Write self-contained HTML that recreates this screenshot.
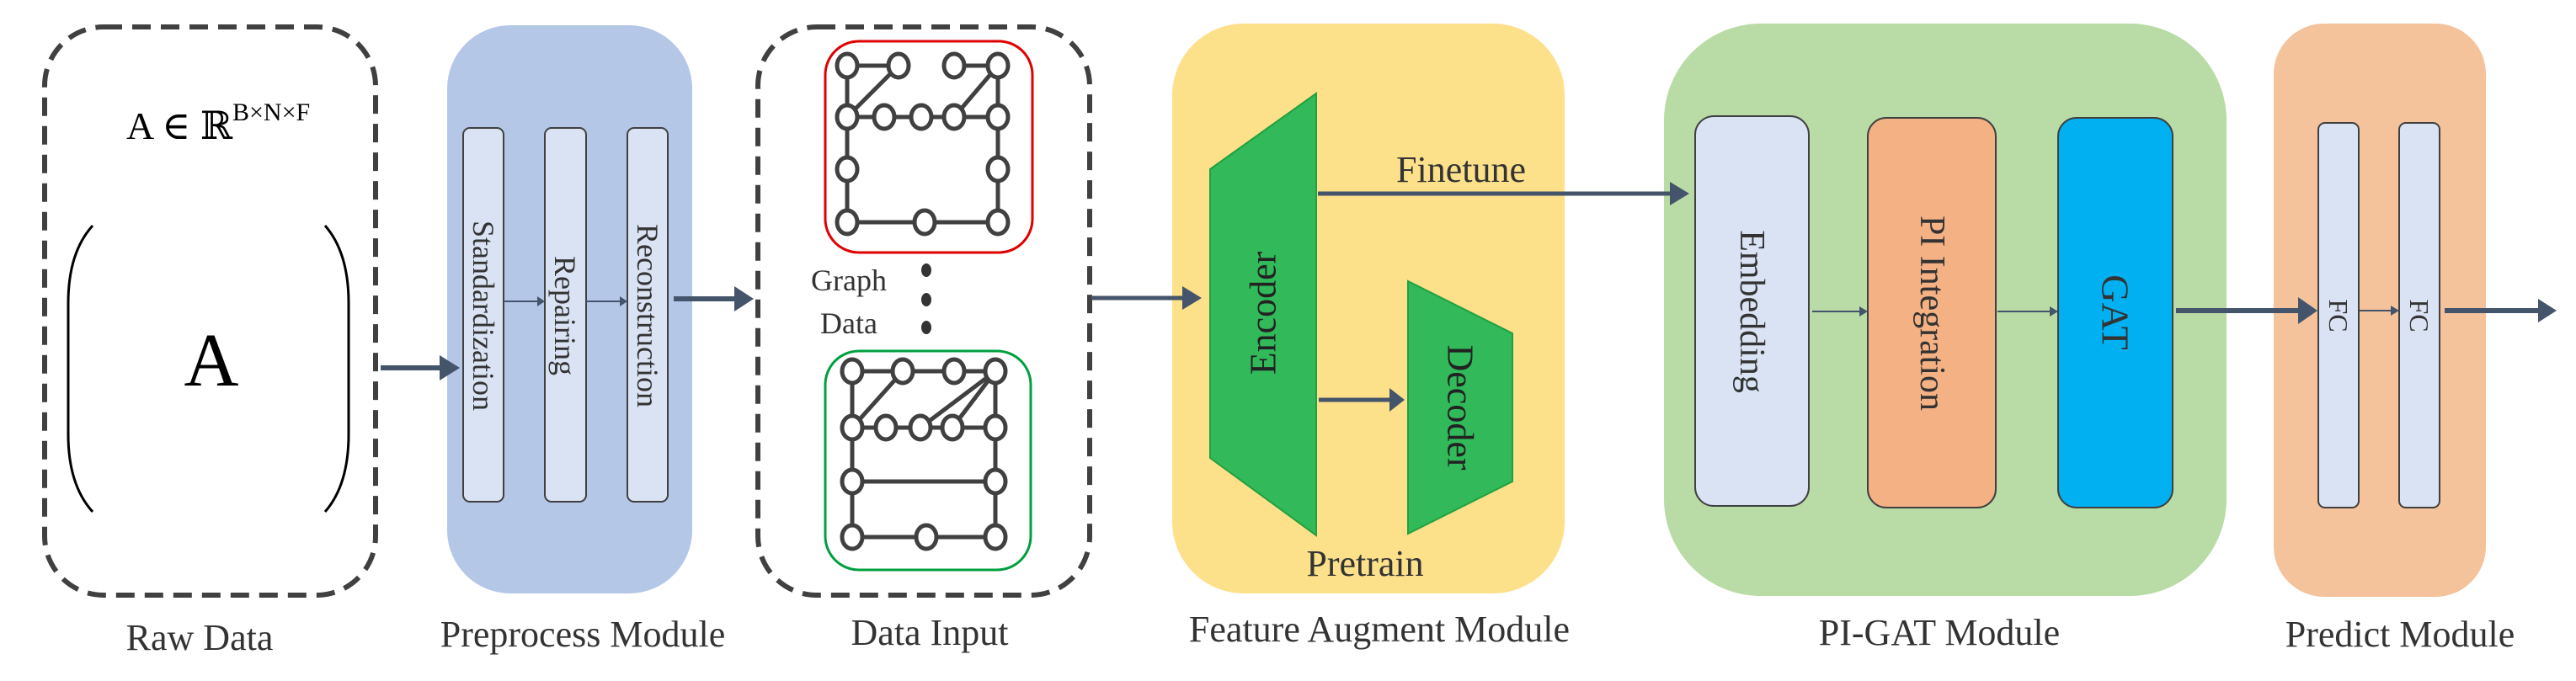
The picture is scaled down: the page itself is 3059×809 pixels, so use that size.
<!DOCTYPE html>
<html><head><meta charset="utf-8"><style>
html,body{margin:0;padding:0;background:#fff;}
svg, svg text{font-family:"Liberation Serif","DejaVu Serif",serif;}
</style></head><body>
<svg width="3059" height="804" viewBox="0 0 3059 804" xmlns="http://www.w3.org/2000/svg" font-family="Liberation Serif, DejaVu Serif, serif">
<!-- Raw data -->
<rect x="53" y="32" width="393" height="675" rx="70" fill="none" stroke="#404040" stroke-width="6" stroke-dasharray="22 12"/>
<text x="150" y="165" font-size="46" font-family="Liberation Serif, DejaVu Serif, serif">A ∈ ℝ<tspan font-size="30" dy="-22">B×N×F</tspan></text>
<path d="M110 268 Q81 300 81 360 L81 516 Q81 576 110 608" fill="none" stroke="#000" stroke-width="3"/>
<path d="M386 268 Q414 300 414 360 L414 516 Q414 576 386 608" fill="none" stroke="#000" stroke-width="3"/>
<text x="251" y="458" font-size="90" text-anchor="middle" font-family="Liberation Serif, serif">A</text>
<!-- Preprocess -->
<rect x="531" y="30" width="291" height="675" rx="75" fill="#b4c7e7"/>
<rect x="550" y="152" width="48" height="444" rx="8" fill="#dae3f3" stroke="#404040" stroke-width="2"/>
<rect x="647" y="152" width="49" height="444" rx="8" fill="#dae3f3" stroke="#404040" stroke-width="2"/>
<rect x="745" y="152" width="48" height="444" rx="8" fill="#dae3f3" stroke="#404040" stroke-width="2"/>
<g font-family="Liberation Serif, serif" fill="#333" text-anchor="middle" dominant-baseline="central">
<text transform="translate(574,375) rotate(90)" font-size="36">Standardization</text>
<text transform="translate(671,375) rotate(90)" font-size="36">Repairing</text>
<text transform="translate(769,375) rotate(90)" font-size="36">Reconstruction</text>
</g>
<!-- Data input -->
<rect x="900" y="32" width="394" height="675" rx="70" fill="none" stroke="#404040" stroke-width="6" stroke-dasharray="22 12"/>
<rect x="980" y="49" width="246" height="251" rx="40" fill="none" stroke="#e00000" stroke-width="3"/>
<rect x="980" y="417" width="244" height="260" rx="40" fill="none" stroke="#00a040" stroke-width="3"/>
<g stroke="#404040" stroke-width="5" fill="none">
<line x1="1006" y1="78" x2="1067" y2="78"/><line x1="1133" y1="78" x2="1185" y2="78"/>
<line x1="1067" y1="78" x2="1006" y2="139"/><line x1="1185" y1="78" x2="1133" y2="139"/>
<line x1="1006" y1="139" x2="1185" y2="139"/>
<line x1="1006" y1="78" x2="1006" y2="264"/><line x1="1185" y1="78" x2="1185" y2="264"/>
<line x1="1006" y1="264" x2="1185" y2="264"/>
<line x1="1012" y1="441" x2="1182" y2="441"/>
<line x1="1072" y1="441" x2="1012" y2="508"/>
<line x1="1182" y1="441" x2="1093" y2="508"/><line x1="1182" y1="441" x2="1131" y2="508"/>
<line x1="1012" y1="508" x2="1182" y2="508"/>
<line x1="1012" y1="441" x2="1012" y2="638"/><line x1="1182" y1="441" x2="1182" y2="638"/>
<line x1="1012" y1="572" x2="1182" y2="572"/>
<line x1="1012" y1="638" x2="1182" y2="638"/>
</g>
<g stroke="#404040" stroke-width="5" fill="#fff">
<ellipse cx="1006" cy="78" rx="12" ry="14"/><ellipse cx="1067" cy="78" rx="12" ry="14"/><ellipse cx="1133" cy="78" rx="12" ry="14"/><ellipse cx="1185" cy="78" rx="12" ry="14"/>
<ellipse cx="1006" cy="139" rx="12" ry="14"/><ellipse cx="1050" cy="139" rx="12" ry="14"/><ellipse cx="1094" cy="139" rx="12" ry="14"/><ellipse cx="1133" cy="139" rx="12" ry="14"/><ellipse cx="1185" cy="139" rx="12" ry="14"/>
<ellipse cx="1006" cy="201" rx="12" ry="14"/><ellipse cx="1185" cy="201" rx="12" ry="14"/>
<ellipse cx="1006" cy="264" rx="12" ry="14"/><ellipse cx="1098" cy="264" rx="12" ry="14"/><ellipse cx="1185" cy="264" rx="12" ry="14"/>
<ellipse cx="1012" cy="441" rx="12" ry="14"/><ellipse cx="1072" cy="441" rx="12" ry="14"/><ellipse cx="1133" cy="441" rx="12" ry="14"/><ellipse cx="1182" cy="441" rx="12" ry="14"/>
<ellipse cx="1012" cy="508" rx="12" ry="14"/><ellipse cx="1052" cy="508" rx="12" ry="14"/><ellipse cx="1093" cy="508" rx="12" ry="14"/><ellipse cx="1131" cy="508" rx="12" ry="14"/><ellipse cx="1182" cy="508" rx="12" ry="14"/>
<ellipse cx="1012" cy="572" rx="12" ry="14"/><ellipse cx="1182" cy="572" rx="12" ry="14"/>
<ellipse cx="1012" cy="638" rx="12" ry="14"/><ellipse cx="1100" cy="638" rx="12" ry="14"/><ellipse cx="1182" cy="638" rx="12" ry="14"/>
</g>
<text x="1008" y="345" font-size="36" text-anchor="middle" fill="#333" font-family="Liberation Serif, serif">Graph</text>
<text x="1008" y="396" font-size="36" text-anchor="middle" fill="#333" font-family="Liberation Serif, serif">Data</text>
<ellipse cx="1100" cy="321" rx="6" ry="8" fill="#333"/><ellipse cx="1100" cy="356" rx="6" ry="8" fill="#333"/><ellipse cx="1100" cy="389" rx="6" ry="8" fill="#333"/>
<!-- Feature augment -->
<rect x="1392" y="28" width="466" height="677" rx="85" fill="#fde08a"/>
<polygon points="1437,201 1563,111 1563,636 1437,544" fill="#31b95a" stroke="#22a040" stroke-width="2"/>
<polygon points="1672,334 1796,396 1796,572 1672,634" fill="#31b95a" stroke="#22a040" stroke-width="2"/>
<!-- PI-GAT -->
<rect x="1976" y="28" width="668" height="680" rx="115" fill="#b9dba6"/>
<rect x="2013" y="138" width="135" height="463" rx="22" fill="#dae3f3" stroke="#404040" stroke-width="2"/>
<rect x="2218" y="140" width="152" height="463" rx="22" fill="#f4b183" stroke="#404040" stroke-width="2"/>
<rect x="2444" y="140" width="136" height="463" rx="22" fill="#00b0f0" stroke="#404040" stroke-width="2"/>
<!-- Predict -->
<rect x="2700" y="28" width="252" height="681" rx="60" fill="#f4c29b"/>
<rect x="2753" y="146" width="48" height="457" rx="8" fill="#dae3f3" stroke="#404040" stroke-width="2"/>
<rect x="2849" y="146" width="48" height="457" rx="8" fill="#dae3f3" stroke="#404040" stroke-width="2"/>
<!-- rotated labels -->
<g font-family="Liberation Serif, serif" fill="#222" text-anchor="middle" dominant-baseline="central">
<text transform="translate(1500,372) rotate(-90)" font-size="44">Encoder</text>
<text transform="translate(1734,484) rotate(90)" font-size="44">Decoder</text>
<text transform="translate(2080,370) rotate(90)" font-size="42" fill="#333">Embedding</text>
<text transform="translate(2294,372) rotate(90)" font-size="42" fill="#333">PI Integration</text>
<text transform="translate(2512,371) rotate(90)" font-size="46" fill="#333">GAT</text>
<text transform="translate(2777,375) rotate(90)" font-size="32" fill="#333">FC</text>
<text transform="translate(2873,375) rotate(90)" font-size="32" fill="#333">FC</text>
</g>
<text x="1735" y="216" font-size="44" text-anchor="middle" fill="#333" font-family="Liberation Serif, serif">Finetune</text>
<text x="1621" y="684" font-size="44" text-anchor="middle" fill="#333" font-family="Liberation Serif, serif">Pretrain</text>
<!-- arrows (on top) -->
<g fill="#44546a" stroke="#44546a">
<line x1="452" y1="437" x2="530" y2="437" stroke-width="6"/>
<polygon points="522,422 546,437 522,452" stroke="none"/>
<line x1="598" y1="358" x2="640" y2="358" stroke-width="2"/>
<polygon points="638,352 647,358 638,364" stroke="none"/>
<line x1="696" y1="358" x2="738" y2="358" stroke-width="2"/>
<polygon points="736,352 745,358 736,364" stroke="none"/>
<line x1="800" y1="355" x2="880" y2="355" stroke-width="6"/>
<polygon points="872,340 895,355 872,370" stroke="none"/>
<line x1="1296" y1="354" x2="1410" y2="354" stroke-width="5"/>
<polygon points="1404,340 1427,354 1404,368" stroke="none"/>
<line x1="1565" y1="230" x2="1990" y2="230" stroke-width="5"/>
<polygon points="1983,216 2006,230 1983,244" stroke="none"/>
<line x1="1566" y1="475" x2="1655" y2="475" stroke-width="5"/>
<polygon points="1650,461 1668,475 1650,489" stroke="none"/>
<line x1="2152" y1="370" x2="2210" y2="370" stroke-width="2"/>
<polygon points="2208,364 2218,370 2208,376" stroke="none"/>
<line x1="2372" y1="370" x2="2436" y2="370" stroke-width="2"/>
<polygon points="2434,364 2444,370 2434,376" stroke="none"/>
<line x1="2584" y1="369" x2="2734" y2="369" stroke-width="6"/>
<polygon points="2729,353 2752,369 2729,385" stroke="none"/>
<line x1="2802" y1="369" x2="2841" y2="369" stroke-width="2"/>
<polygon points="2839,363 2849,369 2839,375" stroke="none"/>
<line x1="2903" y1="369" x2="3020" y2="369" stroke-width="6"/>
<polygon points="3014,355 3036,369 3014,383" stroke="none"/>
</g>
<!-- labels -->
<g font-size="44" text-anchor="middle" fill="#333" font-family="Liberation Serif, serif">
<text x="237" y="772">Raw Data</text>
<text x="692" y="768">Preprocess Module</text>
<text x="1104" y="766">Data Input</text>
<text x="1638" y="762">Feature Augment Module</text>
<text x="2303" y="766">PI-GAT Module</text>
<text x="2850" y="768">Predict Module</text>
</g>
</svg>
</body></html>
